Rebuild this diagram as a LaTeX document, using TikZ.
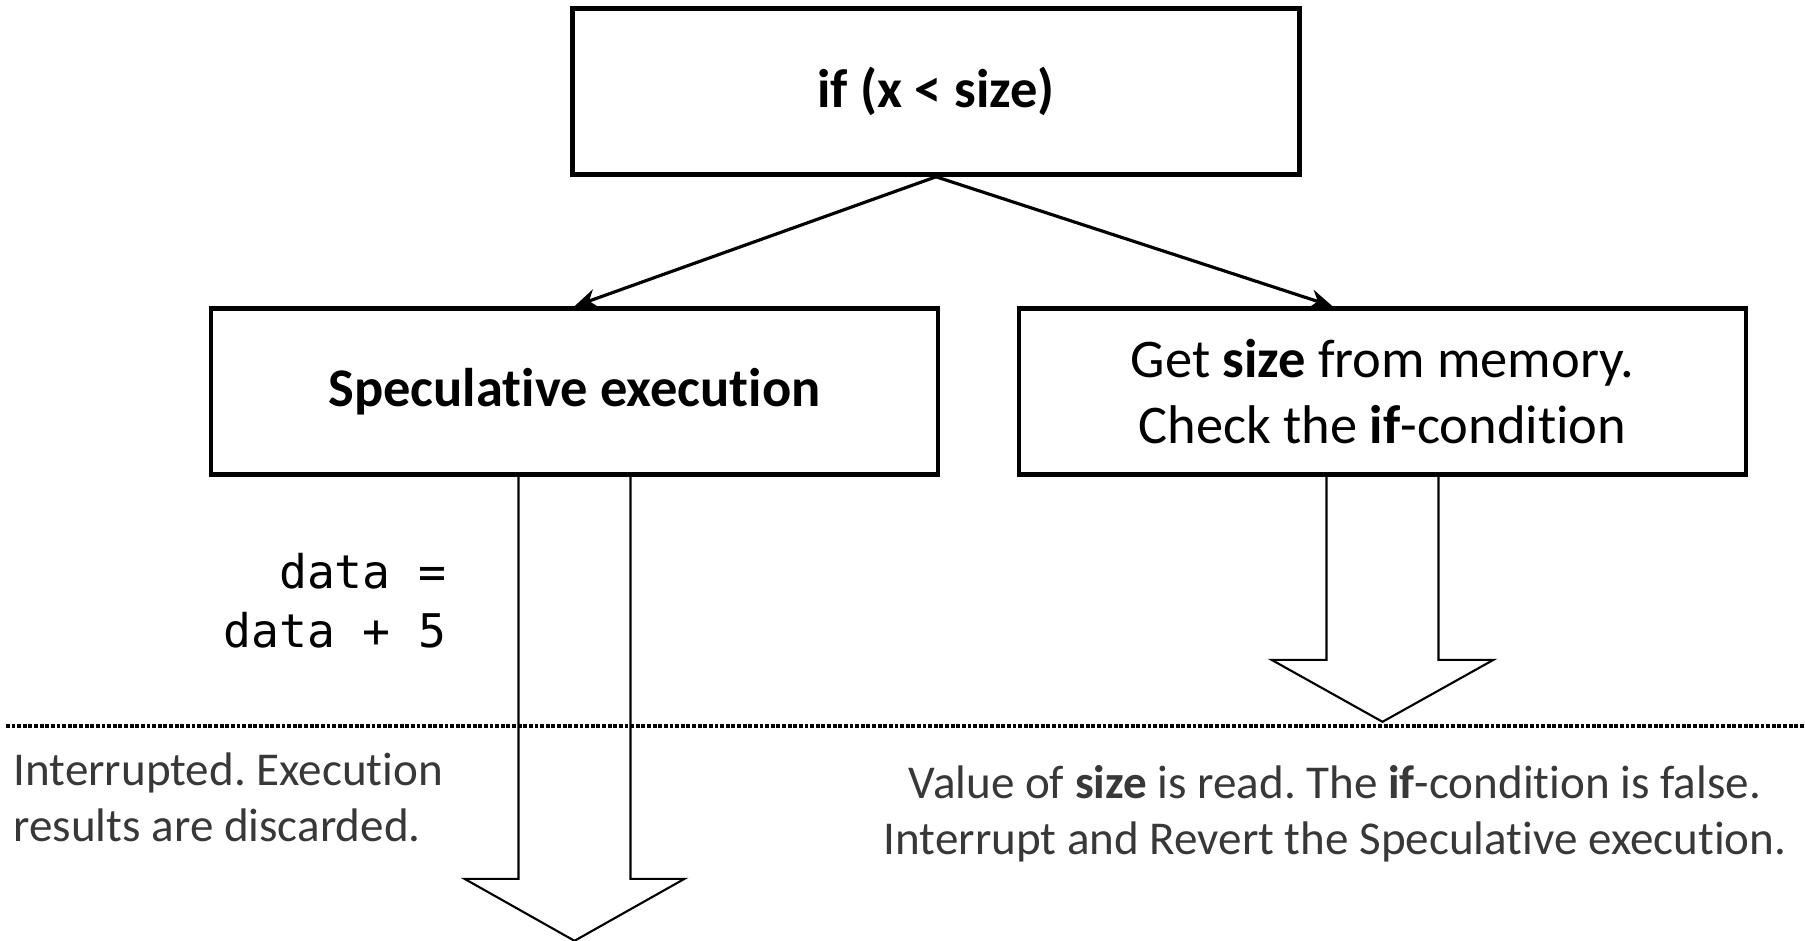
\documentclass[tikz,border=0pt]{standalone}
\usepackage{fontspec}
\setmainfont{Carlito}[Ligatures=CommonOff]
\setmonofont{DejaVu Sans Mono}
\usetikzlibrary{arrows.meta}
\usetikzlibrary{calc}
\usetikzlibrary{positioning}
\frenchspacing

\begin{document}
\begin{tikzpicture}[->,>={Stealth[length=6.5pt,width=5.5pt]},line width=0.9pt]
	\tikzstyle{stage}=[draw, line width=1.3pt, minimum width=7.27cm, minimum height=1.66cm, inner sep=0pt, align=center, font=\fontsize{15.5}{18.8}\selectfont]
	\tikzstyle{note}=[text=black!78, inner sep=0pt, font=\fontsize{13.4}{16}\selectfont]
	\tikzstyle{fat}=[-, line width=0.6pt]
	\useasboundingbox (0,0) rectangle (18.05,-9.40);
	\node[stage] (cond) at (9.36,-0.915) {\textbf{if (x < size)}};
	\node[stage] (spec) at (5.745,-3.915) {\textbf{Speculative execution}};
	\node[stage] (check) at (13.825,-3.915) {Get \textbf{size} from memory.\\Check the \textbf{if}-condition};
	\path
		(cond.south) edge (spec.north)
		(cond.south) edge ([xshift=-0.5cm]check.north);
	% divider
	\draw[-, line width=1.1pt, dash pattern=on 1.1pt off 0.5pt] (0.06,-7.26) -- (18.05,-7.26);
	% block arrows
	\draw[fat] ([xshift=-0.56cm]spec.south) -- ++(0,-4.02) -- ++(-0.54,0) -- ++(1.10,-0.62) -- ++(1.10,0.62) -- ++(-0.54,0) -- ++(0,4.02);
	\draw[fat] ([xshift=-0.56cm]check.south) -- ++(0,-1.83) -- ++(-0.55,0) -- ++(1.11,-0.62) -- ++(1.11,0.62) -- ++(-0.55,0) -- ++(0,1.83);
	\node[font=\ttfamily\fontsize{13.2}{16.7}\selectfont, align=right, anchor=east] (code) at (4.60,-6.01) {data =\\data + 5};
	\node[note, align=left, anchor=west] (lost) at (0.12,-7.97) {Interrupted. Execution\\results are discarded.};
	\node[note, align=center] (revert) at (13.35,-8.135) {Value of \textbf{size} is read. The \textbf{if}-condition is false.\\Interrupt and Revert the Speculative execution.};
\end{tikzpicture}
\end{document}
